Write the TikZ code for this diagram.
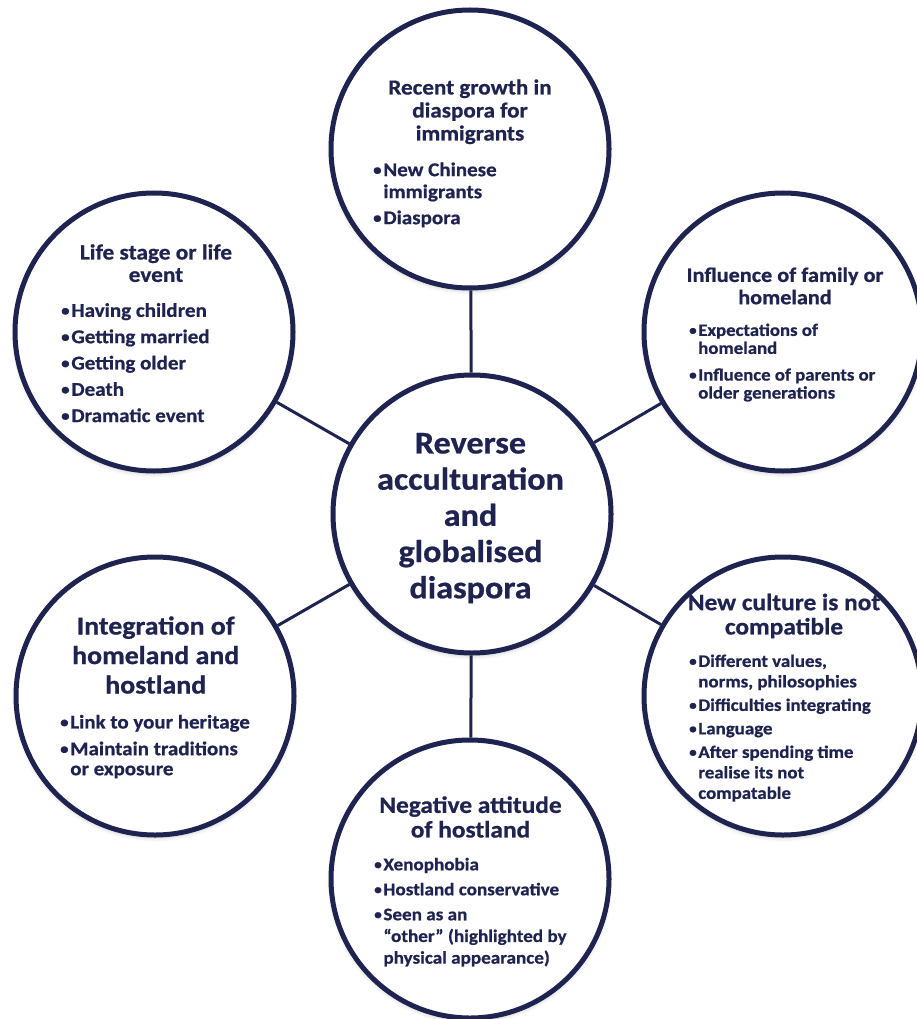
\documentclass[tikz,border=0pt]{standalone}
\usepackage{fontspec}
\usepackage{graphicx}
\setmainfont{Carlito}[FakeStretch=1.08, BoldFeatures={FakeBold=0.7}]
\usetikzlibrary{shadows.blur}
\definecolor{navy}{RGB}{31,35,80}
\lineskiplimit=-\maxdimen

% small bullet with a fixed advance, and the matching indent for wrapped lines
\newcommand\bul{\makebox[0.52em][l]{\raisebox{0.06em}{\scalebox{0.8}{•}}}}
\newcommand\ind{\hspace*{0.52em}}
% fixed-height strut on the first line so the block's top sits at a known offset
\newcommand\lead{\rule{0pt}{0.85em}}
\newcommand\fsz[2]{\fontsize{#1pt}{#2pt}\selectfont\bfseries}

\begin{document}
\begin{tikzpicture}[x=1pt,y=-1pt,
  bubble/.style={circle, draw=navy, line width=5pt, fill=white,
    minimum size=278pt, inner sep=0pt,
    blur shadow={shadow xshift=0pt, shadow yshift=-3pt,
      shadow blur radius=4pt, shadow opacity=20}},
  link/.style={draw=navy, line width=3pt},
  heading/.style={anchor=north, inner sep=0pt, align=center, text=navy},
  points/.style={anchor=north west, inner sep=0pt, align=left, text=navy}]

\useasboundingbox (0,0) rectangle (917,1019);

% circles
\node[bubble] (hub)    at (472,514) {};
\node[bubble] (growth) at (470,149) {};
\node[bubble] (life)   at (154,332) {};
\node[bubble] (family) at (783,332) {};
\node[bubble] (integ)  at (155,696) {};
\node[bubble] (clash)  at (783,696) {};
\node[bubble] (neg)    at (470,879) {};

% spokes from the hub
\draw[link] (hub) -- (growth);
\draw[link] (hub) -- (life);
\draw[link] (hub) -- (family);
\draw[link] (hub) -- (integ);
\draw[link] (hub) -- (clash);
\draw[link] (hub) -- (neg);

% hub text
\node[heading, font=\fsz{31.6}{36.2}] (hubText) at (470.5,426.4)
  {\lead Reverse\\acculturation\\and\\globalised\\diaspora};

% top
\node[heading, font=\fsz{21.4}{23}] (growthHead) at (470,76.1)
  {\lead Recent growth in\\diaspora for\\immigrants};
\node[points, font=\fsz{19.5}{22}] (growthList) at (373,159.4)
  {\lead\bul New Chinese\\\ind immigrants\\[4pt]\bul Diaspora};

% upper left
\node[heading, font=\fsz{21.6}{22.4}] (lifeHead) at (156,240.9)
  {\lead Life stage or life\\event};
\node[points, font=\fsz{19.5}{26.3}] (lifeList) at (61,300.1)
  {\lead\bul Having children\\\bul Getting married\\\bul Getting older\\\bul Death\\\bul Dramatic event};

% upper right
\node[heading, font=\fsz{20.6}{22.3}] (familyHead) at (785,264.2)
  {\lead Influence of family or\\homeland};
\node[points, font=\fsz{17.4}{18}] (familyList) at (689,320.9)
  {\lead\bul Expectations of\\\ind homeland\\[8.7pt]\bul Influence of parents or\\\ind older generations};

% lower left
\node[heading, font=\fsz{25.8}{29.5}] (integHead) at (155.7,612.4)
  {\lead Integration of\\homeland and\\hostland};
\node[points, font=\fsz{19.4}{20}] (integList) at (60,711.8)
  {\lead\bul Link to your heritage\\[6.7pt]\bul Maintain traditions\\\ind or exposure};

% lower right
\node[heading, font=\fsz{23.5}{24.3}] (clashHead) at (784,590)
  {\lead New culture is not\\compatible};
\node[points, font=\fsz{17.5}{20.5}] (clashList) at (689,651.8)
  {\lead\bul Different values,\\\ind norms, philosophies\\[3pt]\bul Difficulties integrating\\[3pt]\bul Language\\[3pt]\bul After spending time\\\ind realise its not\\\ind compatable};

% bottom
\node[heading, font=\fsz{23.5}{24.6}] (negHead) at (470.5,792.7)
  {\lead Negative attitude\\of hostland};
\node[points, font=\fsz{17.7}{21.7}] (negList) at (374,855)
  {\lead\bul Xenophobia\\[3.3pt]\bul Hostland conservative\\[3.3pt]\bul Seen as an\\\ind “other” (highlighted by\\\ind physical appearance)};

\end{tikzpicture}
\end{document}
